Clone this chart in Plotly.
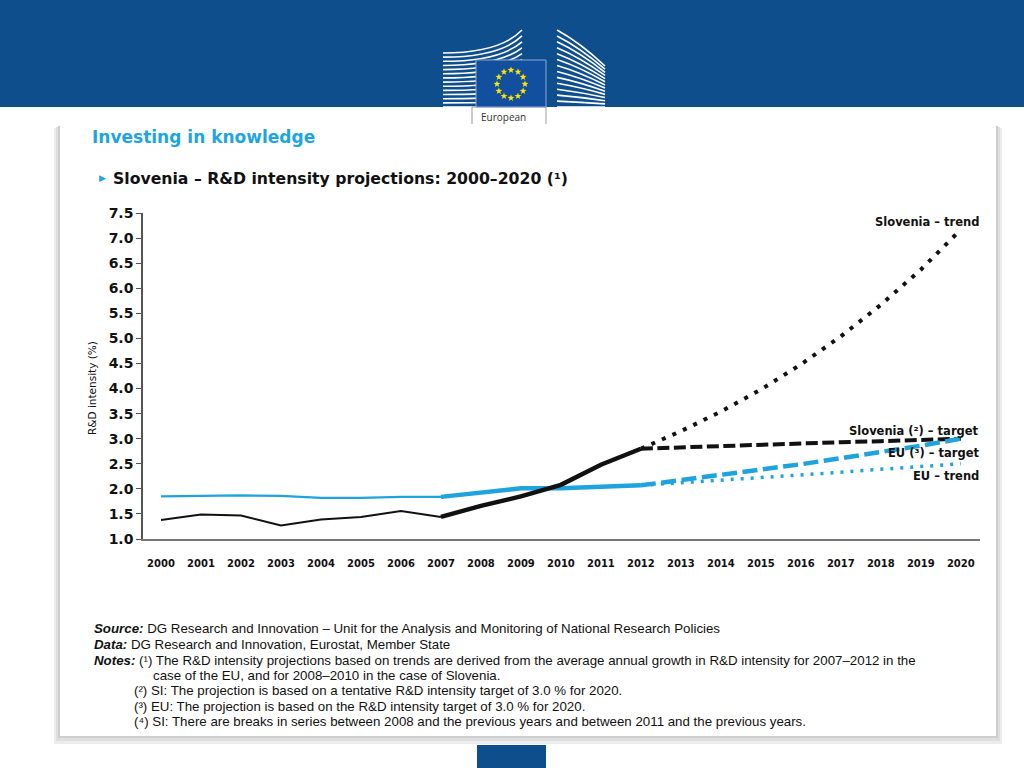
import math
import plotly.graph_objects as go

# ---------------- data ----------------
years_hist = [2000, 2001, 2002, 2003, 2004, 2005, 2006, 2007, 2008, 2009, 2010, 2011, 2012]
slovenia_hist = [1.38, 1.49, 1.47, 1.27, 1.39, 1.44, 1.56, 1.44, 1.66, 1.85, 2.08, 2.48, 2.80]
eu_hist = [1.85, 1.86, 1.87, 1.86, 1.82, 1.82, 1.84, 1.84, 1.92, 2.01, 2.01, 2.04, 2.07]

years_proj = [2012, 2013, 2014, 2015, 2016, 2017, 2018, 2019, 2020]
slovenia_trend = [2.80, 3.15, 3.54, 3.98, 4.48, 5.04, 5.67, 6.37, 7.17]
slovenia_target = [2.80, 2.83, 2.85, 2.88, 2.90, 2.93, 2.95, 2.98, 3.00]
eu_target = [2.07, 2.17, 2.27, 2.38, 2.49, 2.61, 2.73, 2.86, 3.00]
eu_trend = [2.07, 2.12, 2.17, 2.22, 2.28, 2.33, 2.39, 2.44, 2.50]

x_ticks = list(range(2000, 2021))
y_ticks = [1.0, 1.5, 2.0, 2.5, 3.0, 3.5, 4.0, 4.5, 5.0, 5.5, 6.0, 6.5, 7.0, 7.5]

series_labels = ["Slovenia – trend", "Slovenia (²) – target", "EU (³) – target", "EU – trend"]

title_text = "Investing in knowledge"
subtitle_text = "Slovenia – R&D intensity projections: 2000–2020 (¹)"
y_title = "R&D intensity (%)"
notes = [
    "<b><i>Source:</i></b> DG Research and Innovation – Unit for the Analysis and Monitoring of National Research Policies",
    "<b><i>Data:</i></b> DG Research and Innovation, Eurostat, Member State",
    "<b><i>Notes:</i></b> (¹) The R&D intensity projections based on trends are derived from the average annual growth in R&D intensity for 2007–2012 in the",
    "case of the EU, and for 2008–2010 in the case of Slovenia.",
    "(²) SI: The projection is based on a tentative R&D intensity target of 3.0 % for 2020.",
    "(³) EU: The projection is based on the R&D intensity target of 3.0 % for 2020.",
    "(⁴) SI: There are breaks in series between 2008 and the previous years and between 2011 and the previous years.",
]

# ---------------- layout geometry ----------------
FW, FH = 1024, 768
L, R, T, B = 143, 980, 213, 539
PW, PH = R - L, B - T


def px(x):
    return (x - L) / PW


def py(y):
    return (B - y) / PH


BLACK = "#111111"
BLUE = "#1ea3df"
NAVY = "#0f4e8d"

fig = go.Figure()

split = years_hist.index(2007)
# thin historic parts
fig.add_trace(go.Scatter(x=years_hist[:split + 1], y=eu_hist[:split + 1], mode="lines",
                         line=dict(color=BLUE, width=2.2), hoverinfo="skip"))
fig.add_trace(go.Scatter(x=years_hist[:split + 1], y=slovenia_hist[:split + 1], mode="lines",
                         line=dict(color=BLACK, width=2), hoverinfo="skip"))
# thick parts 2007-2012
fig.add_trace(go.Scatter(x=years_hist[split:], y=eu_hist[split:], mode="lines",
                         line=dict(color=BLUE, width=4.5), hoverinfo="skip"))
fig.add_trace(go.Scatter(x=years_hist[split:], y=slovenia_hist[split:], mode="lines",
                         line=dict(color=BLACK, width=4.5), hoverinfo="skip"))
# projections
fig.add_trace(go.Scatter(x=years_proj, y=slovenia_trend, mode="lines",
                         line=dict(color=BLACK, width=4, dash="4px,7.5px"), hoverinfo="skip"))
fig.add_trace(go.Scatter(x=years_proj, y=slovenia_target, mode="lines",
                         line=dict(color=BLACK, width=4, dash="12px,4.5px"), hoverinfo="skip"))
fig.add_trace(go.Scatter(x=years_proj, y=eu_trend, mode="lines",
                         line=dict(color=BLUE, width=3.5, dash="3px,7px"), hoverinfo="skip"))
fig.add_trace(go.Scatter(x=years_proj, y=eu_target, mode="lines",
                         line=dict(color=BLUE, width=4.5, dash="15px,5.5px"), hoverinfo="skip"))

# ---------------- decorative shapes ----------------
shapes = []


def rect(x0, y0, x1, y1, fill, line_color=None, lw=0):
    shapes.append(dict(type="rect", xref="paper", yref="paper",
                       x0=px(x0), x1=px(x1), y0=py(y1), y1=py(y0),
                       fillcolor=fill, layer="below",
                       line=dict(color=line_color or fill, width=lw)))


# header band
rect(0, 0, FW, 107, NAVY)

# building lines (left group)
n = 14
for i in range(n):
    yl = 53 + i * (107 - 53) / (n - 1)
    yr = yl - 23 * (1 - i / (n - 1))
    path = "M {} {} Q {} {} {} {}".format(px(443), py(yl), px(500), py(yl), px(522), py(yr))
    shapes.append(dict(type="path", xref="paper", yref="paper", path=path, layer="below",
                       line=dict(color="white", width=1.6)))
# building lines (right group)
for i in range(n):
    yl = 30 + i * (107 - 30) / (n - 1)
    yr = 66 + i * (107 - 66) / (n - 1)
    path = "M {} {} Q {} {} {} {}".format(px(557), py(yl), px(580), py(yl + (yr - yl) * 0.35),
                                          px(605), py(yr))
    shapes.append(dict(type="path", xref="paper", yref="paper", path=path, layer="below",
                       line=dict(color="white", width=1.6)))

# "European" label box
rect(472, 107, 546, 140, "white", "#9a9a9a", 1)
# flag
rect(476, 60, 546, 107, "#124f9e", "#8fa8cc", 1)
cx, cy, rr = 511, 84, 14
for k in range(12):
    a = 2 * math.pi * k / 12
    sx, sy = cx + rr * math.sin(a), cy - rr * math.cos(a)
    pts = []
    for j in range(10):
        rad = 3.6 if j % 2 == 0 else 1.5
        b = math.pi * j / 5
        pts.append((sx + rad * math.sin(b), sy - rad * math.cos(b)))
    path = "M " + " L ".join("{} {}".format(px(p[0]), py(p[1])) for p in pts) + " Z"
    shapes.append(dict(type="path", xref="paper", yref="paper", path=path, layer="below",
                       fillcolor="#ffe600", line=dict(width=0)))

# card shadow and card
rect(54, 128, 1002, 744, "#ececec")
rect(56, 127, 1000, 741, "#dedede")
rect(58, 126, 998, 738, "#cfcfcf")
rect(60, 124, 996, 736, "white")
# small navy tab at bottom
rect(477, 745, 546, 768, NAVY)

# ---------------- annotations ----------------
ann = []


def text(x, y, s, size, color="#111111", family="DejaVu Sans", xanchor="left", angle=0):
    ann.append(dict(xref="paper", yref="paper", x=px(x), y=py(y), text=s, showarrow=False,
                    xanchor=xanchor, yanchor="middle", textangle=angle,
                    font=dict(size=size, color=color, family=family)))


text(479, 117, "European", 10, "#333333", "Open Sans")
text(90, 137, "<b>" + title_text + "</b>", 17, "#1ea5e1")
text(97, 178, "▶", 9, "#1ea5e1")
text(111, 179, "<b>" + subtitle_text + "</b>", 15.7, "#111111")
text(92, 388, y_title, 10.5, "#111111", xanchor="center", angle=-90)

label_y = [222, 431, 453, 476]
for s, yy in zip(series_labels, label_y):
    text(981, yy, "<b>" + s + "</b>", 11.5, "#111111", xanchor="right")

note_pos = [(92, 628), (92, 644), (92, 660), (151, 675), (132, 690), (132, 706), (132, 721)]
for s, (xx, yy) in zip(notes, note_pos):
    text(xx, yy, s, 13.3, "#111111", "Liberation Sans")

fig.update_layout(
    width=FW, height=FH,
    margin=dict(l=L, r=FW - R, t=T, b=FH - B, pad=0),
    paper_bgcolor="white",
    plot_bgcolor="rgba(0,0,0,0)",
    showlegend=False,
    shapes=shapes,
    annotations=ann,
    xaxis=dict(range=[1999.55, 2020.48], tickmode="array", tickvals=x_ticks,
               ticktext=["<b>%d</b>" % v for v in x_ticks],
               tickfont=dict(family="DejaVu Sans", size=10, color="#111111"),
               showgrid=False, zeroline=False, showline=True, linecolor="#777777", linewidth=1.5,
               ticks="", ticklabelstandoff=14),
    yaxis=dict(range=[1.0, 7.5], tickmode="array", tickvals=y_ticks,
               ticktext=["<b>%.1f</b>" % v for v in y_ticks],
               tickfont=dict(family="DejaVu Sans", size=14, color="#111111"),
               showgrid=False, zeroline=False, showline=True, linecolor="#555555", linewidth=1.5,
               ticks="outside", ticklen=5, tickcolor="#555555", tickwidth=1.2),
)

fig.write_html("out.html", config={"displayModeBar": False},
               post_script="document.body.style.margin='0';document.body.style.overflow='hidden';")
